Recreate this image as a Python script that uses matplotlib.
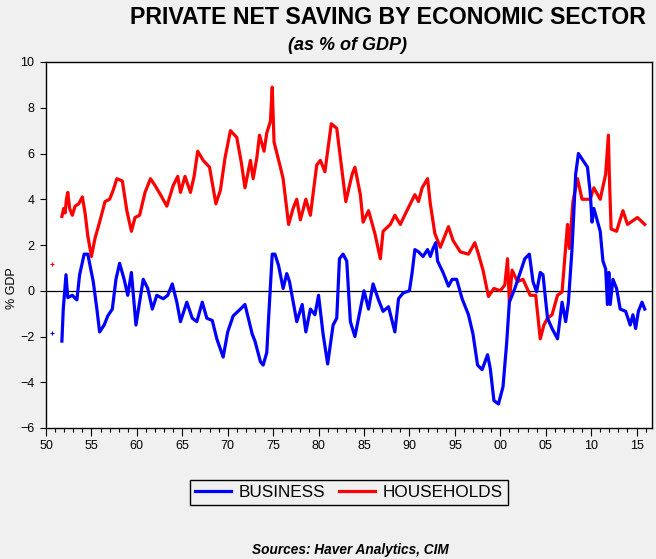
import matplotlib
matplotlib.use("Agg")
import matplotlib.pyplot as plt
from matplotlib.ticker import MultipleLocator, FixedLocator, FixedFormatter

# ---------------- data ----------------
hh_years = [1951.75, 1951.95, 1952.1, 1952.25, 1952.4, 1952.6, 1952.9, 1953.2, 1953.6, 1954.0,
            1954.3, 1954.6, 1955.0, 1955.4, 1955.9, 1956.5, 1957.0, 1957.4, 1957.8, 1958.4,
            1958.9, 1959.4, 1959.8, 1960.3, 1960.9, 1961.5, 1962.0, 1962.6, 1963.3, 1964.0,
            1964.5, 1964.8, 1965.3, 1965.9, 1966.3, 1966.7, 1967.3, 1968.0, 1968.7, 1969.2,
            1969.7, 1970.3, 1971.0, 1971.5, 1971.9, 1972.5, 1972.8, 1973.2, 1973.5, 1974.0,
            1974.3, 1974.7, 1974.9, 1975.1, 1975.8, 1976.1, 1976.7, 1977.2, 1977.6, 1978.0,
            1978.6, 1979.1, 1979.8, 1980.2, 1980.7, 1981.4, 1982.0, 1982.6, 1983.0, 1983.7,
            1984.0, 1984.6, 1984.9, 1985.5, 1986.2, 1986.8, 1987.1, 1987.9, 1988.4, 1989.0,
            1989.6, 1990.1, 1990.6, 1991.0, 1991.4, 1992.0, 1992.3, 1992.8, 1993.4, 1994.3,
            1994.8, 1995.6, 1996.5, 1997.2, 1997.6, 1998.1, 1998.7, 1999.3, 2000.0, 2000.5,
            2000.8, 2001.0, 2001.3, 2001.9, 2002.5, 2003.3, 2003.9, 2004.4, 2004.8, 2005.2,
            2005.7, 2006.3, 2006.8, 2007.4, 2007.6, 2008.0, 2008.5, 2009.0, 2009.9, 2010.3,
            2011.0, 2011.6, 2011.9, 2012.0, 2012.2, 2012.8, 2013.5, 2014.0, 2015.1, 2015.9]
households = [3.25, 3.6, 3.4, 4.0, 4.3, 3.6, 3.3, 3.7, 3.8, 4.1,
              3.4, 2.4, 1.5, 2.3, 3.0, 3.9, 4.0, 4.4, 4.9, 4.8,
              3.5, 2.6, 3.2, 3.3, 4.3, 4.9, 4.6, 4.2, 3.7, 4.6,
              5.0, 4.3, 5.0, 4.3, 5.0, 6.1, 5.7, 5.4, 3.8, 4.4,
              5.8, 7.0, 6.7, 5.6, 4.5, 5.7, 4.9, 5.8, 6.8, 6.1,
              6.9, 7.4, 8.9, 6.5, 5.4, 4.9, 2.9, 3.6, 4.0, 3.1,
              4.0, 3.3, 5.5, 5.7, 5.2, 7.3, 7.1, 5.2, 3.9, 5.1,
              5.4, 4.2, 3.0, 3.5, 2.5, 1.4, 2.6, 2.9, 3.3, 2.9,
              3.4, 3.8, 4.2, 3.9, 4.5, 4.9, 3.8, 2.5, 1.9, 2.8,
              2.2, 1.7, 1.6, 2.1, 1.6, 0.9, -0.25, 0.1, 0.0, 0.25,
              1.4, -0.5, 0.9, 0.4, 0.5, -0.2, -0.2, -2.1, -1.5, -1.2,
              -1.05, -0.2, -0.05, 2.9, 1.85, 3.9, 4.9, 4.0, 4.0, 4.5,
              4.0, 5.1, 6.8, 5.1, 2.7, 2.6, 3.5, 2.9, 3.2, 2.9]

bus_years = [1951.75, 1951.9, 1952.2, 1952.4, 1952.9, 1953.4, 1953.7, 1954.2, 1954.6, 1955.2,
             1955.6, 1955.9, 1956.4, 1956.8, 1957.3, 1957.7, 1958.1, 1958.6, 1959.0, 1959.4,
             1959.9, 1960.3, 1960.7, 1961.2, 1961.7, 1962.2, 1962.9, 1963.4, 1963.9, 1964.4,
             1964.8, 1965.5, 1966.1, 1966.6, 1967.2, 1967.7, 1968.3, 1968.8, 1969.5, 1970.0,
             1970.6, 1971.4, 1971.9, 1972.7, 1973.0, 1973.6, 1973.9, 1974.3, 1974.5, 1974.9,
             1975.2, 1975.6, 1976.1, 1976.5, 1976.8, 1977.6, 1978.2, 1978.6, 1979.1, 1979.6,
             1980.0, 1980.5, 1981.0, 1981.6, 1982.0, 1982.3, 1982.7, 1983.1, 1983.5, 1984.0,
             1984.6, 1985.0, 1985.5, 1986.0, 1986.6, 1987.1, 1987.7, 1988.4, 1988.8, 1989.3,
             1990.0, 1990.3, 1990.6, 1991.0, 1991.5, 1992.0, 1992.3, 1992.6, 1992.9, 1993.1,
             1993.7, 1994.3, 1994.7, 1995.2, 1995.8, 1996.5, 1997.0, 1997.5, 1998.0, 1998.6,
             1998.9, 1999.3, 1999.8, 2000.3, 2000.7, 2001.0, 2001.6, 2002.2, 2002.7, 2003.2,
             2003.6, 2004.0, 2004.4, 2004.7, 2005.2, 2005.7, 2006.3, 2006.8, 2007.2, 2007.5,
             2007.9, 2008.3, 2008.6, 2009.1, 2009.6, 2009.9, 2010.1, 2010.3, 2011.0, 2011.3,
             2011.6, 2011.8, 2011.95, 2012.1, 2012.4, 2012.8, 2013.2, 2013.8, 2014.3, 2014.6,
             2014.9, 2015.2, 2015.6, 2015.9]
business = [-2.2, -0.8, 0.7, -0.3, -0.2, -0.4, 0.7, 1.6, 1.6, 0.4,
            -0.8, -1.8, -1.5, -1.1, -0.8, 0.5, 1.2, 0.5, -0.2, 0.8,
            -1.5, -0.5, 0.5, 0.1, -0.8, -0.2, -0.35, -0.2, 0.3, -0.5,
            -1.35, -0.5, -1.2, -1.35, -0.5, -1.2, -1.3, -2.1, -2.9, -1.8,
            -1.1, -0.8, -0.6, -1.9, -2.2, -3.1, -3.25, -2.7, -1.2, 1.6,
            1.6, 1.1, 0.1, 0.75, 0.4, -1.35, -0.6, -1.8, -0.8, -1.05,
            -0.2, -1.9, -3.2, -1.5, -1.2, 1.4, 1.6, 1.3, -1.35, -2.0,
            -0.8, 0.0, -0.8, 0.3, -0.4, -0.9, -0.7, -1.8, -0.35, -0.1,
            0.0, 0.8, 1.8, 1.7, 1.5, 1.8, 1.5, 1.85, 2.1, 1.3,
            0.8, 0.2, 0.5, 0.5, -0.35, -1.05, -1.9, -3.25, -3.45, -2.8,
            -3.4, -4.8, -4.95, -4.2, -2.3, -0.5, 0.1, 0.8, 1.4, 1.6,
            0.4, -0.05, 0.8, 0.7, -1.2, -1.65, -2.1, -0.5, -1.35, -0.5,
            1.85, 5.1, 6.0, 5.7, 5.4, 4.3, 3.0, 3.6, 2.6, 1.3,
            0.95, -0.6, 0.8, -0.6, 0.5, 0.1, -0.8, -0.9, -1.5, -1.05,
            -1.65, -0.9, -0.5, -0.8]

# isolated early observations
early_year = [1950.7]
early_households = [1.17]
early_business = [-1.85]

series_names = ["BUSINESS", "HOUSEHOLDS"]
tick_years = [1950, 1955, 1960, 1965, 1970, 1975, 1980, 1985, 1990, 1995, 2000, 2005, 2010, 2015]
tick_labels = ["50", "55", "60", "65", "70", "75", "80", "85", "90", "95", "00", "05", "10", "15"]

# ---------------- figure ----------------
BG = "#F0F0F0"
plt.rcParams["font.family"] = ["Liberation Sans", "DejaVu Sans"]

fig = plt.figure(figsize=(6.56, 5.59), dpi=100, facecolor=BG)
ax = fig.add_axes([46 / 656, 1 - 428 / 559, (652 - 46) / 656, (428 - 62) / 559])
ax.set_facecolor("white")

ax.axhline(0, color="black", lw=0.9, zorder=1)
l1, = ax.plot(bus_years, business, color="#0000FF", lw=2.3, zorder=3)
l2, = ax.plot(hh_years, households, color="#FF0000", lw=2.3, zorder=2)
ax.plot(early_year, early_households, "+", color="#FF0000", ms=3, mew=0.8)
ax.plot(early_year, early_business, "+", color="#0000FF", ms=3, mew=0.8)

ax.set_xlim(1950, 2016.7)
ax.set_ylim(-6, 10)
ax.yaxis.set_major_locator(MultipleLocator(2))
ax.xaxis.set_major_locator(FixedLocator(tick_years))
ax.xaxis.set_major_formatter(FixedFormatter(tick_labels))
ax.xaxis.set_minor_locator(MultipleLocator(1))

for s in ax.spines.values():
    s.set_color("black")
    s.set_linewidth(1.0)

ax.tick_params(axis="y", which="major", direction="out", length=4.5, width=0.8,
               labelsize=9, pad=4, colors="black")
ax.tick_params(axis="x", which="major", direction="out", length=5.5, width=0.8,
               labelsize=9, pad=3)
ax.tick_params(axis="x", which="minor", direction="out", length=3, width=0.8)

fig.text(12 / 656, 1 - 288 / 559, "% GDP", rotation=90, ha="center", va="center", fontsize=9)

fig.text(388 / 656, 1 - 17 / 559, "PRIVATE NET SAVING BY ECONOMIC SECTOR",
         ha="center", va="center", fontsize=16.7, fontweight="bold")
fig.text(347 / 656, 1 - 45 / 559, "(as % of GDP)", ha="center", va="center",
         fontsize=13, fontweight="bold", fontstyle="italic")

leg = fig.legend([l1, l2], series_names, loc="center", ncol=2,
                 bbox_to_anchor=(349 / 656, 1 - 492.5 / 559), fontsize=12.3,
                 handlelength=2.1, handletextpad=0.45, columnspacing=0.8,
                 borderpad=0.3, borderaxespad=0, frameon=True, fancybox=False,
                 facecolor=BG, edgecolor="black", framealpha=1)
leg.get_frame().set_linewidth(1.0)

fig.text(350 / 656, 1 - 550 / 559, "Sources: Haver Analytics, CIM", ha="center", va="center",
         fontsize=9.8, fontweight="bold", fontstyle="italic")

fig.savefig("out.png", dpi=100, facecolor=BG)
